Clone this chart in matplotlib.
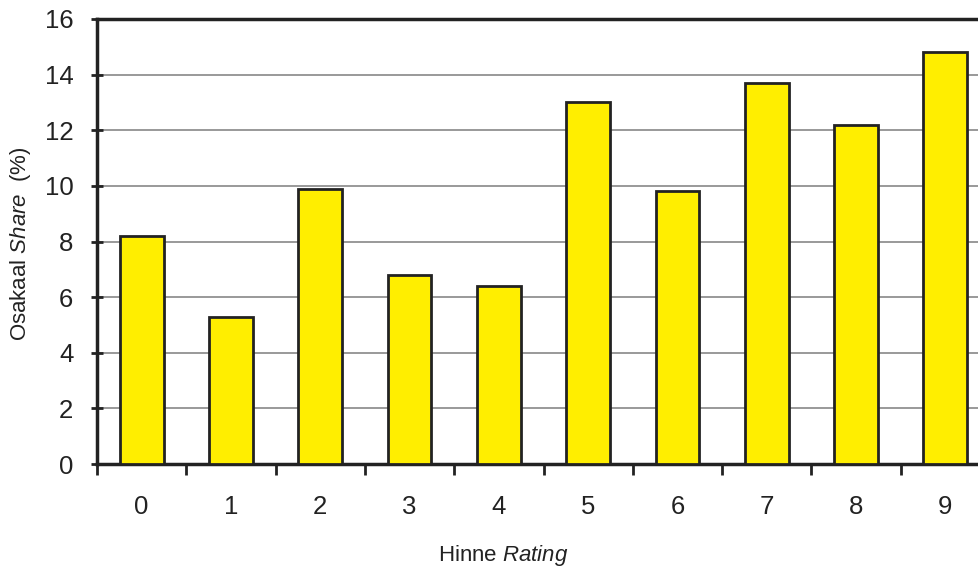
import matplotlib
matplotlib.use("Agg")
import matplotlib.pyplot as plt

categories = ["0", "1", "2", "3", "4", "5", "6", "7", "8", "9"]
values = [8.2, 5.3, 9.9, 6.8, 6.4, 13.0, 9.8, 13.7, 12.2, 14.8]
yticks = [0, 2, 4, 6, 8, 10, 12, 14, 16]

plt.rcParams['font.family'] = ['Liberation Sans', 'DejaVu Sans']
plt.rcParams['mathtext.fontset'] = 'custom'
plt.rcParams['mathtext.rm'] = 'Liberation Sans'
plt.rcParams['mathtext.it'] = 'Liberation Sans:italic'

W, H = 979, 569
fig = plt.figure(figsize=(W/100, H/100), dpi=100)
x0, y_bot, y_top, cw = 97, 464, 19, 89.3
ax = fig.add_axes([x0/W, 1 - y_bot/H, cw*10/W, (y_bot - y_top)/H])

pos = list(range(len(categories)))
ax.bar(pos, values, width=0.49, color='#FFEE00', edgecolor='#222222', linewidth=2, zorder=3)
ax.set_xlim(-0.5, len(categories) - 0.5)
ax.set_ylim(0, 16)
ax.set_yticks(yticks)
ax.set_yticklabels([str(t) for t in yticks], fontsize=18.5, color='#222222')
ax.set_xticks(pos)
ax.set_xticklabels(categories, fontsize=18.5, color='#222222')
ax.tick_params(axis='x', length=0, pad=22)
ax.set_xticks([p - 0.5 for p in pos] + [len(categories) - 0.5], minor=True)
ax.tick_params(axis='x', which='minor', length=8, width=2, color='#222222', direction='out')
ax.tick_params(axis='y', length=8, width=2, color='#222222', direction='inout', pad=13)
ax.yaxis.grid(True, color='#888888', linewidth=1.2, zorder=0)
ax.set_axisbelow(True)
for s in ['left', 'bottom', 'top']:
    ax.spines[s].set_linewidth(2.5)
    ax.spines[s].set_color('#222222')
ax.spines['right'].set_visible(False)

fig.text(503/W, 1 - 556/H, r"Hinne $\mathit{Rating}$", fontsize=16, ha='center', va='center', color='#222222')
fig.text(21/W, 1 - 244/H, r"Osakaal $\mathit{Share}$  (%)", fontsize=16, ha='center', va='center', rotation=90, color='#222222')

fig.savefig("out.png", dpi=100)
